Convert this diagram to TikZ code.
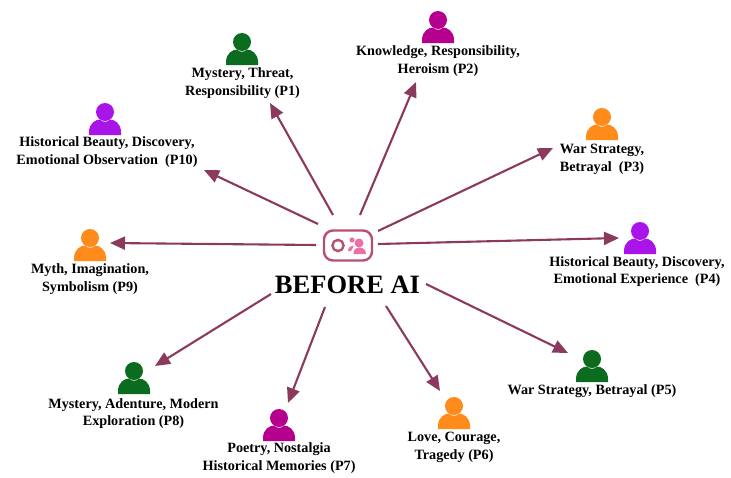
\documentclass[tikz,border=0pt]{standalone}
\usepackage{fontspec}
\setmainfont{Liberation Serif}
\definecolor{arrowc}{HTML}{8B3A5E}
\definecolor{hubc}{HTML}{B5506F}
\definecolor{hubp}{HTML}{EC6FA8}
\definecolor{pgreen}{HTML}{0B6B1E}
\definecolor{pmag}{HTML}{B5008F}
\definecolor{porange}{HTML}{FF8C1A}
\definecolor{ppurple}{HTML}{A915E8}
\usetikzlibrary{arrows.meta}
\tikzset{
  x=1pt,y=-1pt,
  lab/.style={font=\bfseries\fontsize{14.2}{17.5}\selectfont,align=center,inner sep=0pt,text=black},
  conn/.style={draw=arrowc,line width=2.1pt,-{Triangle[length=15pt,width=13pt]}},
  pics/person/.style={code={
    \fill[#1] (0,-7) circle (9);
    \fill[#1] (-16,16) -- (-16,13) .. controls (-16,4) and (-9,0.5) .. (-5,0.5)
       .. controls (-3,3.5) and (3,3.5) .. (5,0.5) .. controls (9,0.5) and (16,4) .. (16,13) -- (16,16) -- cycle;
  }}
}
\begin{document}
\begin{tikzpicture}
\useasboundingbox (0,0) rectangle (731,477);
\pic at (242,49) {person=pgreen};
\pic at (438,27) {person=pmag};
\pic at (602,124) {person=porange};
\pic at (640,238) {person=ppurple};
\pic at (592,366) {person=pgreen};
\pic at (454,413) {person=porange};
\pic at (279,425) {person=pmag};
\pic at (134,378) {person=pgreen};
\pic at (90,245) {person=porange};
\pic at (105,119) {person=ppurple};

\node[lab] (p1) at (242.5,83) {Mystery, Threat,\\Responsibility (P1)};
\node[lab] (p2) at (438,61) {Knowledge, Responsibility,\\Heroism (P2)};
\node[lab] (p3) at (602,159.5) {War Strategy,\\Betrayal\ \ (P3)};
\node[lab] (p4) at (637,271.5) {Historical Beauty, Discovery,\\Emotional Experience\ \ (P4)};
\node[lab] (p5) at (592,391) {War Strategy, Betrayal (P5)};
\node[lab] (p6) at (454,447.5) {Love, Courage,\\Tragedy (P6)};
\node[lab] (p7) at (279,458) {Poetry, Nostalgia\\Historical Memories (P7)};
\node[lab] (p8) at (133.5,413.5) {Mystery, Adenture, Modern\\Exploration (P8)};
\node[lab] (p9) at (90,279) {Myth, Imagination,\\Symbolism (P9)};
\node[lab] (p10) at (107,152) {Historical Beauty, Discovery,\\Emotional Observation\ \ (P10)};

\node[font=\bfseries\fontsize{26.5}{30}\selectfont,inner sep=0pt] (title) at (347.5,285) {BEFORE AI};

% hub icon
\node[draw=hubc,line width=2.4pt,rounded corners=9pt,minimum width=48pt,minimum height=30pt,inner sep=0pt] (hub) at (348,245.5) {};
\draw[hubc,line width=2.4pt] (338,245.5) circle (5.6);
\fill[hubp] (359,243) circle (4.5);
\fill[hubp] (353.5,254) .. controls (353.5,249) and (356,247.5) .. (359,247.5) .. controls (363,247.5) and (366,249.5) .. (366,254) -- cycle;
\fill[hubp] (352,240) circle (2.6);
\fill[hubp] (348,251) .. controls (348,247) and (351,245.5) .. (354,245.5) -- (351,251) -- cycle;

\foreach \n/\sx/\sy/\ex/\ey in {
 1/333/215/270/103, 2/360/215/416/82, 3/378/231/553/148, 4/378/244/619/238,
 5/426/284/568/353, 6/386/306/440/391, 7/325/307/288/403, 8/271/294/155/366,
 9/316/245/110/243, 10/318/224/204/170}{
  \coordinate (s\n) at (\sx,\sy);
  \coordinate (e\n) at (\ex,\ey);
  \draw[conn] (s\n) -- (e\n);
}
\end{tikzpicture}
\end{document}
